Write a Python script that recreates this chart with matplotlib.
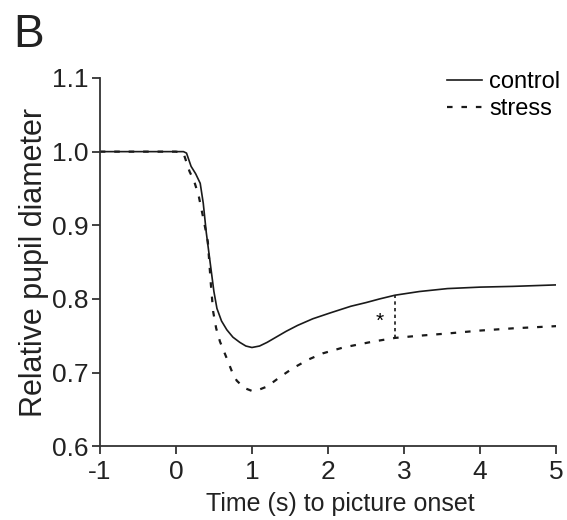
import matplotlib
matplotlib.use("Agg")
import matplotlib.pyplot as plt

plt.rcParams["font.family"] = ["Liberation Sans", "DejaVu Sans"]

# mean pupil traces, relative to pre-stimulus baseline
t_control = [-1.0, 0.0, 0.1, 0.14, 0.2, 0.26, 0.32, 0.36, 0.4, 0.45, 0.5, 0.54,
             0.6, 0.67, 0.75, 0.84, 0.92, 1.0, 1.1, 1.2, 1.3, 1.45, 1.6, 1.8, 2.03,
             2.3, 2.5, 2.68, 2.88, 3.2, 3.57, 4.0, 4.43, 5.0]
control = [1.0, 1.0, 1.0, 0.998, 0.98, 0.97, 0.957, 0.93, 0.89, 0.85, 0.81, 0.787,
           0.77, 0.758, 0.748, 0.741, 0.736, 0.734, 0.736, 0.741, 0.747, 0.756, 0.764, 0.773, 0.781,
           0.790, 0.795, 0.800, 0.805, 0.810, 0.814, 0.816, 0.817, 0.819]

t_stress = [-1.0, 0.0, 0.1, 0.18, 0.24, 0.3, 0.36, 0.42, 0.46, 0.49, 0.53, 0.58,
            0.67, 0.75, 0.8, 0.9, 1.0, 1.1, 1.2, 1.37, 1.54, 1.75, 1.93, 2.2,
            2.59, 2.88, 3.2, 3.57, 4.0, 4.43, 5.0]
stress = [1.0, 1.0, 0.998, 0.973, 0.96, 0.94, 0.91, 0.878, 0.82, 0.783, 0.76, 0.742,
          0.719, 0.698, 0.689, 0.679, 0.675, 0.677, 0.681, 0.694, 0.706, 0.718, 0.726, 0.734,
          0.742, 0.747, 0.750, 0.753, 0.757, 0.760, 0.763]

# significant difference marker
sig_t = 2.88
sig_top = 0.805
sig_bottom = 0.747

x_ticks = [-1, 0, 1, 2, 3, 4, 5]
y_ticks = [0.6, 0.7, 0.8, 0.9, 1.0, 1.1]

fig = plt.figure(figsize=(5.67, 5.2), dpi=100)
ax = fig.add_axes([0.176, 0.142, 0.805, 0.708])

ax.plot(t_control, control, color="#1a1a1a", lw=1.2, label="control")
ax.plot(t_stress, stress, color="#1a1a1a", lw=1.6, dashes=(2.5, 4), label="stress")
ax.plot([sig_t, sig_t], [sig_bottom, sig_top], color="#1a1a1a", lw=1.2, dashes=(2, 2))
ax.text(sig_t - 0.2, 0.769, "*", fontsize=15, ha="center", va="center")

ax.set_xlim(-1, 5)
ax.set_ylim(0.6, 1.1)
ax.set_xticks(x_ticks)
ax.set_xticklabels([str(v) for v in x_ticks])
ax.set_yticks(y_ticks)
ax.set_yticklabels([f"{v:.1f}" for v in y_ticks])

for side in ("top", "right"):
    ax.spines[side].set_visible(False)
for side in ("left", "bottom"):
    ax.spines[side].set_linewidth(1.3)
    ax.spines[side].set_color("#333333")
ax.tick_params(direction="out", length=6, width=1.3, color="#333333",
               labelsize=19, pad=4, colors="#222222")
ax.tick_params(axis="y", pad=2)

ax.set_xlabel("Time (s) to picture onset", fontsize=18, color="#222222")
ax.xaxis.set_label_coords(0.526, -0.125)
ax.set_ylabel("Relative pupil diameter", fontsize=22, color="#222222", labelpad=2)

ax.legend(loc="upper right", bbox_to_anchor=(1.03, 1.045), frameon=False,
          fontsize=17, handlelength=1.5, handletextpad=0.3, labelspacing=0.22,
          borderaxespad=0)

fig.text(0.024, 0.975, "B", fontsize=33, ha="left", va="top", color="#222222")

fig.savefig("out.png", dpi=100)
